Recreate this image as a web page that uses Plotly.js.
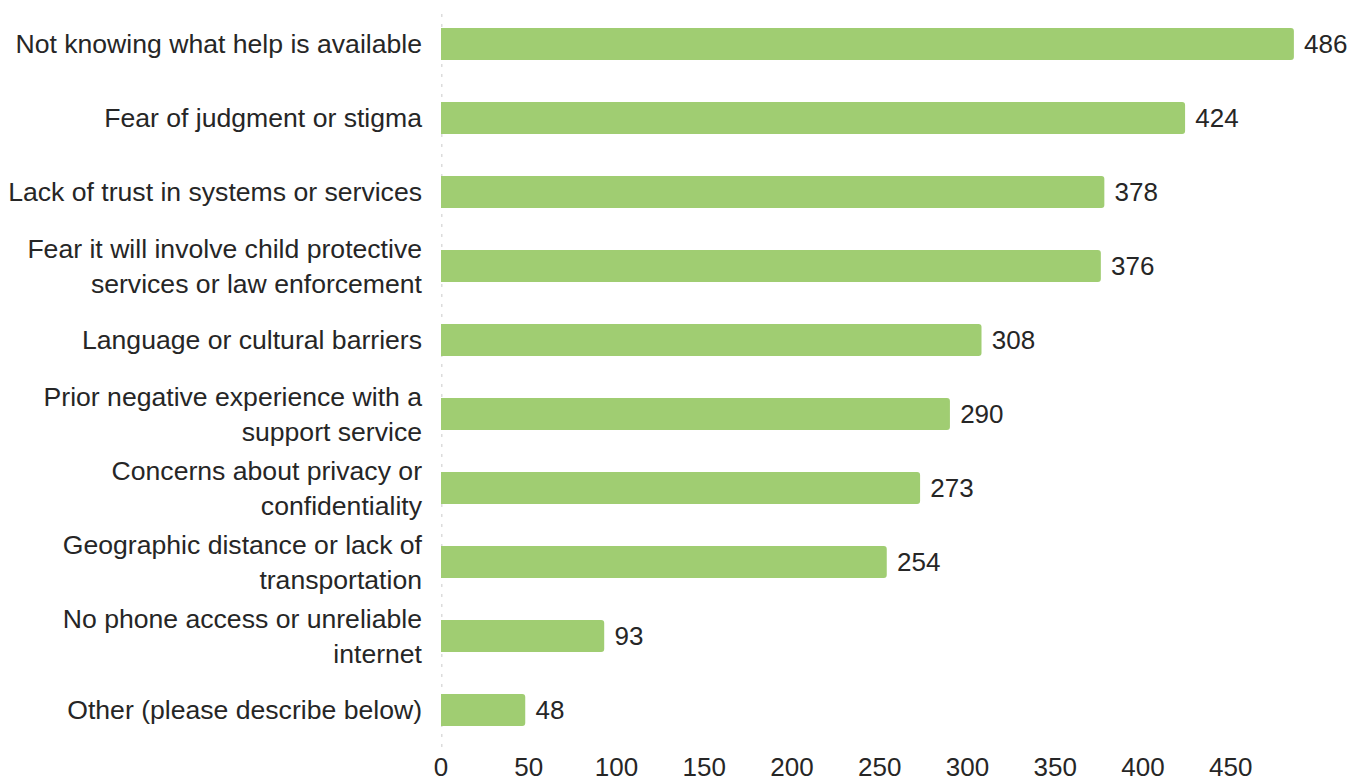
<!DOCTYPE html>
<html>
<head>
<meta charset="utf-8">
<script src="https://cdn.plot.ly/plotly-3.0.1.min.js"></script>
<style>html,body{margin:0;padding:0;background:#fff;}#chart{width:1360px;height:782px;}</style>
</head>
<body>
<div id="chart"></div>
<script>
const categories = [
  "Not knowing what help is available",
  "Fear of judgment or stigma",
  "Lack of trust in systems or services",
  "Fear it will involve child protective<br>services or law enforcement",
  "Language or cultural barriers",
  "Prior negative experience with a<br>support service",
  "Concerns about privacy or<br>confidentiality",
  "Geographic distance or lack of<br>transportation",
  "No phone access or unreliable<br>internet",
  "Other (please describe below)"
];
const counts = [486, 424, 378, 376, 308, 290, 273, 254, 93, 48];
const tickValues = [0, 50, 100, 150, 200, 250, 300, 350, 400, 450];

const FONT = "Liberation Sans, Arial, sans-serif";

const trace = {
  type: "bar",
  orientation: "h",
  y: categories,
  x: counts,
  marker: {color: "#a0cd72"},
  text: counts.map(v => " " + v),
  textposition: "outside",
  cliponaxis: false,
  textfont: {family: FONT, size: 26, color: "#262626"},
  hoverinfo: "x+y"
};

const layout = {
  width: 1360,
  height: 782,
  margin: {l: 441, r: 24, t: 7, b: 35, pad: 0},
  paper_bgcolor: "#ffffff",
  plot_bgcolor: "#ffffff",
  showlegend: false,
  bargap: 0.57,
  barcornerradius: 3,
  font: {family: FONT, size: 26, color: "#262626"},
  xaxis: {
    range: [0, 510],
    tickvals: tickValues,
    ticktext: tickValues.map(String),
    showgrid: false,
    zeroline: false,
    showline: false,
    ticks: "",
    ticklabelstandoff: 2,
    tickfont: {family: FONT, size: 26, color: "#262626"}
  },
  yaxis: {
    type: "category",
    autorange: "reversed",
    showgrid: false,
    zeroline: false,
    showline: false,
    ticks: "",
    ticklabelstandoff: 18,
    tickfont: {family: FONT, size: 26.6, color: "#262626"}
  },
  shapes: [{
    type: "line",
    xref: "x", yref: "paper",
    x0: 0, x1: 0, y0: 0, y1: 1,
    line: {color: "#dcdcdc", width: 3, dash: "3px,7px"},
    layer: "below"
  }]
};

Plotly.newPlot("chart", [trace], layout, {displayModeBar: false, staticPlot: true});
</script>
</body>
</html>
